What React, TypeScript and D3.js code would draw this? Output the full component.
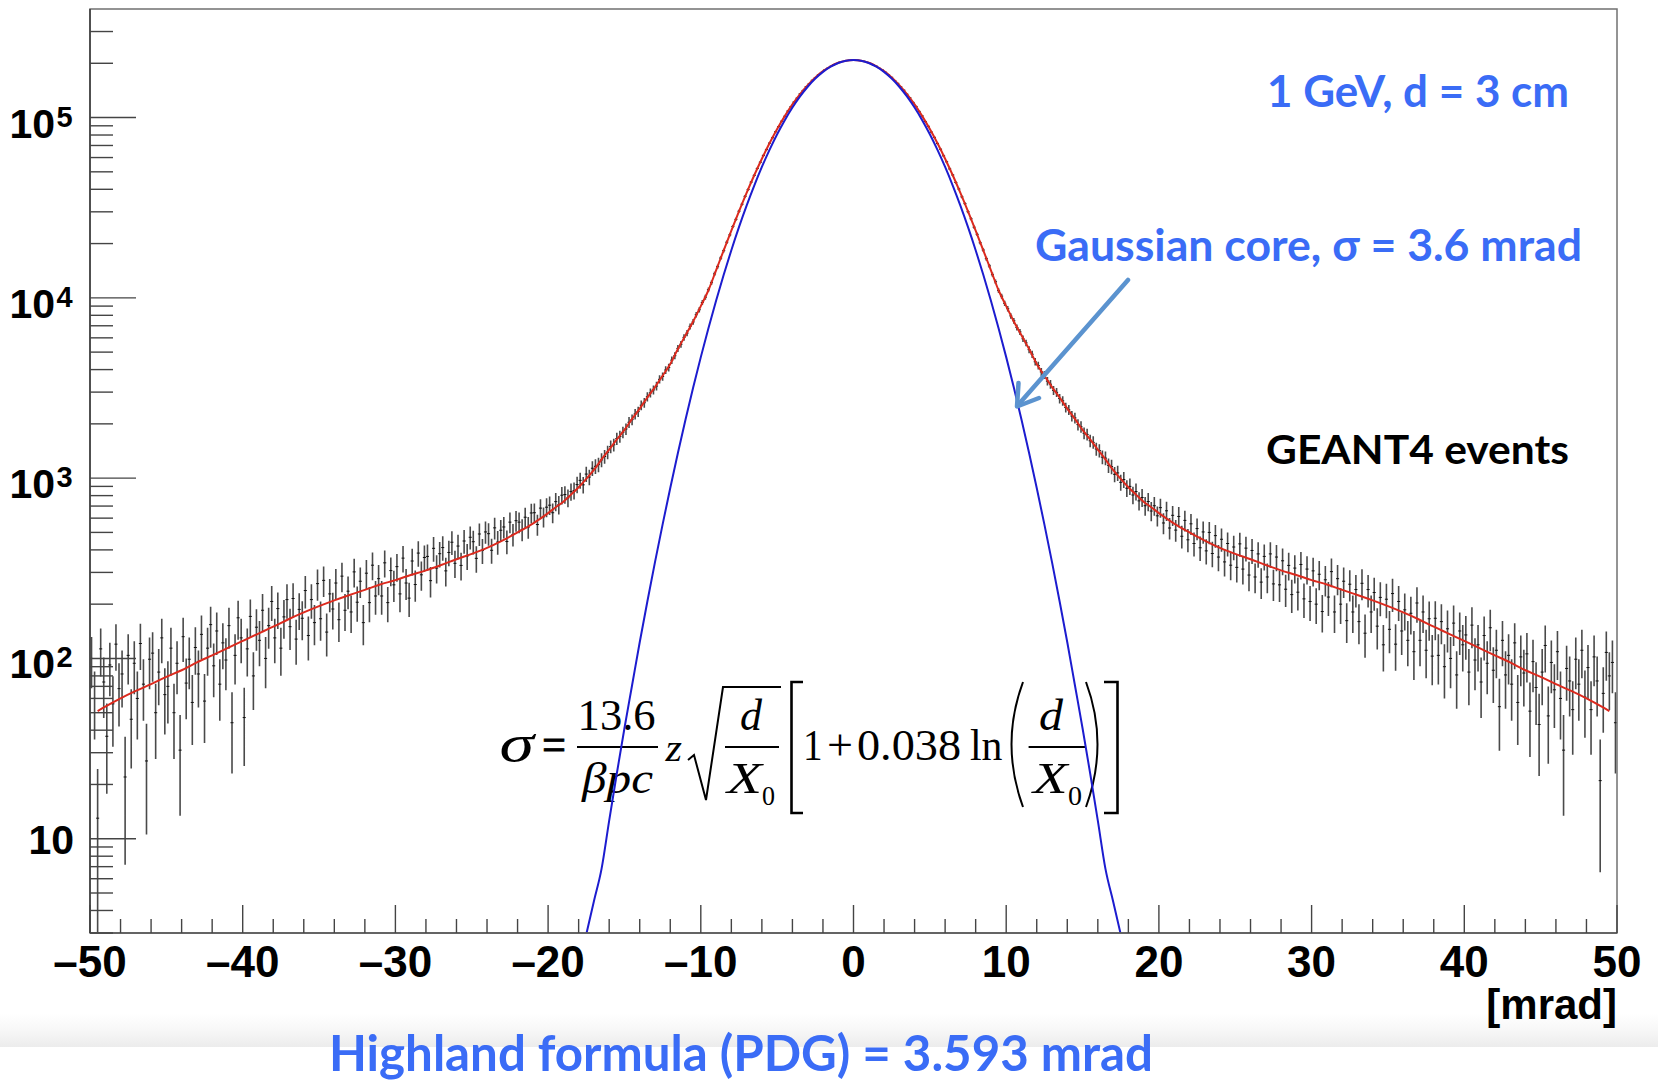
import React from "react";
import * as d3 from "d3";

// ---------- data ----------
const BIN_LO = -50;
const BIN_WIDTH = 0.2;
const ERR_SCALE = 10; // error bar = sqrt(ERR_SCALE * count)

// histogram bin contents, bins of 0.2 mrad from -50 to 50
const COUNTS: number[] = [
  100, 60, 13, 113, 74, 37, 92, 56, 120, 68, 82, 22, 104, 46, 94, 60, 121, 72, 27, 99,
  107, 50, 84, 130, 63, 70, 114, 50, 94, 31, 132, 73, 99, 57, 115, 82, 136, 58, 114, 154,
  91, 142, 72, 122, 98, 152, 44, 104, 168, 130, 47, 113, 171, 80, 149, 126, 185, 100, 152, 207,
  130, 189, 114, 170, 212, 150, 215, 128, 187, 167, 238, 134, 212, 158, 260, 166, 271, 140, 228, 188,
  262, 164, 286, 185, 236, 181, 302, 205, 268, 158, 297, 204, 329, 222, 277, 222, 339, 204, 307, 256,
  323, 228, 360, 262, 216, 347, 257, 384, 291, 363, 368, 270, 408, 317, 381, 412, 306, 387, 441, 337,
  420, 328, 448, 370, 470, 444, 359, 490, 397, 503, 492, 398, 530, 442, 514, 536, 445, 570, 487, 581,
  570, 519, 607, 535, 641, 643, 553, 682, 610, 690, 708, 643, 741, 712, 804, 811, 778, 842, 853, 921,
  972, 918, 1053, 1014, 1135, 1163, 1188, 1262, 1318, 1392, 1497, 1531, 1658, 1702, 1796,
  1874, 2041, 2112, 2268, 2339, 2538, 2619, 2826, 2972, 3087, 3241, 3532, 3664, 3978, 4105,
  4512, 4776, 5243, 5529, 6034, 6375, 6948, 7352, 8061, 8589, 9421, 10082, 11093, 12136, 13581,
  14890, 16621, 18282, 20355, 22347, 24890, 27254, 30231, 33061, 36554,
  39862, 43841, 47752, 52188, 56541, 61634, 66405, 72124, 77281, 83401,
  89063, 95471, 101702, 108623, 114814, 121805, 128094, 135221, 141327, 148350,
  154231, 160954, 166672, 172701, 177806, 183390, 187551, 192190, 196238, 199291,
  202760, 204681, 206855, 207594, 208641,
  208213, 207951, 206412, 205103, 202288, 199742, 195774, 192651, 187503, 183361,
  178266, 172218, 167143, 160452, 154736, 147881, 141762, 134708, 128511, 121374,
  115226, 108185, 102091, 95102, 89447, 83019, 77632, 71785, 66732, 61322,
  56843, 51896, 48004, 43612, 40118, 36318, 33287, 30046, 27442, 24665,
  22510, 20194, 18423, 16489, 15037, 13438, 12284, 10967, 10215, 9322,
  8702, 7941, 7458, 6842, 6473, 5931, 5627, 5161, 4866, 4421,
  4213, 3884, 3741, 3452, 3318, 3069, 2991, 2762, 2683, 2466,
  2392, 2211, 2158, 1981, 1926, 1776, 1748, 1612, 1579, 1451,
  1422, 1307, 1291, 1178, 1159, 1050, 1069, 948, 982, 879,
  900, 806, 843, 748, 781, 703, 742, 657, 703, 618,
  686, 564, 659, 529, 622, 515, 613, 476, 583, 455, 558, 434, 525, 411, 503, 395, 500, 382, 480, 365,
  458, 343, 434, 329, 415, 320, 432, 313, 409, 290, 397, 283, 380, 265, 368, 283, 380, 259, 365, 256,
  348, 242, 328, 226, 317, 233, 332, 214, 313, 207, 306, 200, 293, 182, 273, 219, 303, 181, 277, 200,
  268, 162, 258, 181, 241, 160, 261, 138, 241, 181, 232, 151, 218, 119, 213, 145, 229, 120, 207, 142,
  186, 126, 178, 109, 203, 126, 181, 111, 166, 103, 167, 104, 160, 90, 146, 100, 157, 81, 142, 119,
  135, 84, 153, 98, 119, 74, 134, 94, 148, 86, 111, 54, 126, 81, 104, 72, 122, 57, 102, 83,
  106, 51, 96, 69, 43, 84, 118, 48, 95, 67, 109, 60, 31, 88, 75, 52, 99, 72, 111, 61,
  89, 52, 102, 75, 21, 64, 108, 80, 95, 44,
];

// red fit curve
const RED_X: number[] = [
  -49.5, -49, -48, -47, -46, -45, -44, -43, -42, -41, -40, -39, -38, -37, -36, -35, -34, -33, -32, -31,
  -30, -29, -28, -27, -26, -25, -24, -23, -22, -21, -20, -19.5, -19, -18.5, -18, -17.5, -17, -16.5, -16,
  -15.5, -15, -14.5, -14, -13.5, -13, -12.5, -12, -11.5, -11, -10.5, -10, -9.5, -9, -8.5, -8, -7.5, -7,
  -6.5, -6, -5.5, -5, -4.5, -4, -3.5, -3, -2.5, -2, -1.5, -1, -0.5, 0,
  0.5, 1, 1.5, 2, 2.5, 3, 3.5, 4, 4.5, 5, 5.5, 6, 6.5, 7, 7.5, 8, 8.5, 9, 9.5, 10, 10.5, 11, 11.5, 12,
  12.5, 13, 13.5, 14, 14.5, 15, 15.5, 16, 16.5, 17, 17.5, 18, 18.5, 19, 19.5, 20, 21, 22, 23, 24, 25,
  26, 27, 28, 29, 30, 31, 32, 33, 34, 35, 36, 37, 38, 39, 40, 41, 42, 43, 44, 45, 46, 47, 48, 49, 49.5,
];
const RED_Y: number[] = [
  51, 54, 60, 66, 72, 79, 86, 95, 104, 114, 125, 137, 150, 165, 180, 195, 210, 225, 240, 257,
  272, 290, 308, 330, 355, 380, 410, 450, 500, 560, 640, 690, 740, 810, 890, 990, 1110, 1270, 1440,
  1640, 1850, 2130, 2430, 2800, 3200, 3700, 4300, 5200, 6200, 7400, 9000, 11020, 14210, 18340, 23590, 30160, 38210,
  47840, 59120, 71990, 86310, 101860, 118260, 134950, 151400, 166900, 180800, 192420, 201190, 206640, 208500,
  206640, 201190, 192420, 180800, 166900, 151400, 134950, 118260, 101860, 86310, 71990, 59120, 47840, 38210, 30160,
  23590, 18340, 14210, 11020, 9000, 7400, 6200, 5200, 4300,
  3700, 3200, 2800, 2430, 2130, 1850, 1640, 1440, 1270, 1110, 990, 890, 810, 740, 690, 640, 560, 500, 450, 410, 380,
  355, 330, 308, 290, 272, 257, 240, 225, 210, 195, 180, 165, 150, 137, 125, 114, 104, 95, 86, 79, 72, 66, 60, 54, 51,
];

// blue Gaussian curve
const BLUE_X: number[] = [
  -18, -17.5, -17, -16.5, -16, -15.5, -15, -14.5, -14, -13.5, -13, -12.5, -12, -11.5, -11, -10.5, -10,
  -9.5, -9, -8.5, -8, -7.5, -7, -6.5, -6, -5.5, -5, -4.5, -4, -3.5, -3, -2.5, -2, -1.5, -1, -0.5, 0,
  0.5, 1, 1.5, 2, 2.5, 3, 3.5, 4, 4.5, 5, 5.5, 6, 6.5, 7, 7.5, 8, 8.5, 9, 9.5, 10,
  10.5, 11, 11.5, 12, 12.5, 13, 13.5, 14, 14.5, 15, 15.5, 16, 16.5, 17, 17.5, 18,
];
const BLUE_Y: number[] = [
  1.9, 2.95, 4.5, 6.8, 12.6, 23, 41, 71, 123, 207, 342, 554, 882, 1378, 2113, 3180, 4690,
  6790, 9640, 13440, 18380, 24660, 32460, 41950, 53190, 66150, 80740, 96680, 113610, 130980, 148190, 164470, 179130, 191430, 200730, 206530, 208500,
  206530, 200730, 191430, 179130, 164470, 148190, 130980, 113610, 96680, 80740, 66150, 53190, 41950, 32460, 24660, 18380, 13440, 9640, 6790, 4690,
  3180, 2113, 1378, 882, 554, 342, 207, 123, 71, 41, 23, 12.6, 6.8, 4.5, 2.95, 1.9,
];

const X_DOMAIN: [number, number] = [-50, 50];
const Y_DOMAIN: [number, number] = [3, 4e5];
const X_MAJOR: number[] = [-50, -40, -30, -20, -10, 0, 10, 20, 30, 40, 50];
const X_LABELS: string[] = ["\u201350", "\u201340", "\u201330", "\u201320", "\u201310", "0", "10", "20", "30", "40", "50"];
const Y_DECADES: number[] = [1, 2, 3, 4, 5];

const TITLE_TOP = "1 GeV, d = 3 cm";
const TITLE_CORE = "Gaussian core, \u03c3 = 3.6 mrad";
const TITLE_G4 = "GEANT4 events";
const TITLE_HIGHLAND = "Highland formula (PDG) = 3.593 mrad";
const X_TITLE = "[mrad]";

export default function App() {
  const W = 1658;
  const H = 1081;
  const L = 90, R = 1617, T = 9, B = 933;

  const x = d3.scaleLinear().domain(X_DOMAIN).range([L, R]);
  const y = d3.scaleLog().domain(Y_DOMAIN).range([B, T]);

  // error bars
  let vPath = "";
  let hPath = "";
  COUNTS.forEach((v, i) => {
    const c = BIN_LO + (i + 0.5) * BIN_WIDTH;
    const e = Math.sqrt(ERR_SCALE * v);
    const px = x(c);
    vPath += `M${px.toFixed(2)},${y(v + e).toFixed(2)}V${y(Math.max(v - e, 0.5)).toFixed(2)}`;
    hPath += `M${x(c - BIN_WIDTH / 2).toFixed(2)},${y(v).toFixed(2)}H${x(c + BIN_WIDTH / 2).toFixed(2)}`;
  });

  const line = d3
    .line<[number, number]>()
    .x((d) => x(d[0]))
    .y((d) => y(d[1]))
    .curve(d3.curveMonotoneX);
  const redPath = line(RED_X.map((v, i) => [v, RED_Y[i]] as [number, number])) || "";
  const bluePath = line(BLUE_X.map((v, i) => [v, BLUE_Y[i]] as [number, number])) || "";

  // ticks
  const xMinor: number[] = d3.range(-50, 50.001, 2).filter((v) => Math.abs(v % 10) > 1e-6);
  const yMinor: number[] = [];
  for (let p = 0; p <= 5; p++) {
    for (let m = 2; m <= 9; m++) {
      const v = m * Math.pow(10, p);
      if (v > Y_DOMAIN[0] - 1e-9 && v < Y_DOMAIN[1] - 1e-9) yMinor.push(v);
    }
  }

  const axisFont = "'Liberation Sans', Arial, Helvetica, sans-serif";
  const textFont = "Lato, 'Open Sans', 'Noto Sans', sans-serif";
  const serif = "'Liberation Serif', 'Times New Roman', serif";
  const blue = "#3a6cf6";

  return (
    <svg
      width={W}
      height={H}
      viewBox={`0 0 ${W} ${H}`}
      style={{ position: "absolute", left: 0, top: 0, background: "#fff" }}
    >
      <defs>
        <clipPath id="plotclip">
          <rect x={L} y={T} width={R - L} height={B - T} />
        </clipPath>
        <linearGradient id="band" x1="0" y1="0" x2="0" y2="1">
          <stop offset="0" stopColor="#ffffff" />
          <stop offset="0.5" stopColor="#f7f7f7" />
          <stop offset="1" stopColor="#ececec" />
        </linearGradient>
      </defs>
      <rect x={0} y={0} width={W} height={H} fill="#fff" />
      <rect x={0} y={1014} width={W} height={33} fill="url(#band)" />

      {/* formula */}
      <g fontFamily={serif} fill="#000">
        <text x={499.5} y={761} fontSize={52} fontStyle="italic" textLength={34.5} lengthAdjust="spacingAndGlyphs">σ</text>
        <text x={542} y={761} fontSize={48} textLength={24} lengthAdjust="spacingAndGlyphs" stroke="#000" strokeWidth={0.8}>=</text>
        <text x={577.6} y={730} fontSize={44} textLength={78} lengthAdjust="spacingAndGlyphs">13.6</text>
        <line x1={577} y1={747} x2={658} y2={747} stroke="#000" strokeWidth={1.8} />
        <text x={582} y={793} fontSize={44} fontStyle="italic" textLength={71} lengthAdjust="spacingAndGlyphs">βpc</text>
        <text x={665.5} y={761} fontSize={38} fontStyle="italic" textLength={16.5} lengthAdjust="spacingAndGlyphs">z</text>
        <path d="M688,760 L694,755 L706,800 L723,687 L781,687" fill="none" stroke="#000" strokeWidth={2} strokeLinejoin="miter" />
        <text x={740} y={730} fontSize={44} fontStyle="italic" textLength={22} lengthAdjust="spacingAndGlyphs">d</text>
        <line x1={725} y1={747} x2={779} y2={747} stroke="#000" strokeWidth={1.8} />
        <text x={727} y={793} fontSize={44} fontStyle="italic" textLength={35} lengthAdjust="spacingAndGlyphs">X</text>
        <text x={762} y={805} fontSize={28} textLength={13} lengthAdjust="spacingAndGlyphs">0</text>
        <path d="M803,682 H791.5 V813 H803" fill="none" stroke="#000" strokeWidth={2.6} />
        <text x={803} y={760} fontSize={44} textLength={19.6} lengthAdjust="spacingAndGlyphs">1</text>
        <text x={827} y={760} fontSize={44} textLength={26} lengthAdjust="spacingAndGlyphs">+</text>
        <text x={857} y={760} fontSize={44} textLength={104} lengthAdjust="spacingAndGlyphs">0.038</text>
        <text x={970} y={760} fontSize={44} textLength={32.5} lengthAdjust="spacingAndGlyphs">ln</text>
        <path d="M1023,682 Q1000,744 1023,807" fill="none" stroke="#000" strokeWidth={2} />
        <text x={1039} y={730} fontSize={44} fontStyle="italic" textLength={24} lengthAdjust="spacingAndGlyphs">d</text>
        <line x1={1028.6} y1={747} x2={1085} y2={747} stroke="#000" strokeWidth={1.8} />
        <text x={1033} y={793} fontSize={44} fontStyle="italic" textLength={34.6} lengthAdjust="spacingAndGlyphs">X</text>
        <text x={1068} y={805} fontSize={28} textLength={14} lengthAdjust="spacingAndGlyphs">0</text>
        <path d="M1086,682 Q1109,744 1086,807" fill="none" stroke="#000" strokeWidth={2} />
        <path d="M1104,682 H1117.5 V813 H1104" fill="none" stroke="#000" strokeWidth={2.6} />
      </g>

      {/* data + curves */}
      <g clipPath="url(#plotclip)">
        <path d={vPath} fill="none" stroke="#4a4a4a" strokeWidth={1.6} />
        <path d={hPath} fill="none" stroke="#111" strokeWidth={1} />
        <path d={redPath} fill="none" stroke="#dc2a1e" strokeWidth={2} />
        <path d={bluePath} fill="none" stroke="#1c1ccf" strokeWidth={2} />
      </g>

      {/* frame */}
      <rect x={L} y={T} width={R - L} height={B - T} fill="none" stroke="#707070" strokeWidth={1.5} />
      <line x1={L} y1={T} x2={L} y2={B} stroke="#3a3a3a" strokeWidth={1.5} />
      <line x1={L} y1={B} x2={R} y2={B} stroke="#555" strokeWidth={1.5} />

      {/* x ticks */}
      <g stroke="#444" strokeWidth={1.4}>
        {X_MAJOR.map((v) => (
          <line key={"xM" + v} x1={x(v)} x2={x(v)} y1={B} y2={B - 28} />
        ))}
        {xMinor.map((v) => (
          <line key={"xm" + v} x1={x(v)} x2={x(v)} y1={B} y2={B - 14} />
        ))}
      </g>
      {/* y ticks */}
      <g stroke="#444" strokeWidth={1.4}>
        {Y_DECADES.map((p) => (
          <line key={"yM" + p} x1={L} x2={L + 46} y1={y(Math.pow(10, p))} y2={y(Math.pow(10, p))} />
        ))}
        {yMinor.map((v) => (
          <line key={"ym" + v} x1={L} x2={L + 23} y1={y(v)} y2={y(v)} />
        ))}
      </g>

      {/* x labels */}
      <g fontFamily={axisFont} fontWeight="bold" fontSize={44} fill="#000" textAnchor="middle">
        {X_MAJOR.map((v, i) => (
          <text key={"xl" + v} x={x(v)} y={977}>
            {X_LABELS[i]}
          </text>
        ))}
      </g>
      <text x={R} y={1019} fontFamily={axisFont} fontWeight="bold" fontSize={42} textAnchor="end" fill="#000">
        {X_TITLE}
      </text>

      {/* y labels */}
      <g fontFamily={axisFont} fontWeight="bold" fill="#000">
        {Y_DECADES.map((p) => {
          const ty = y(Math.pow(10, p));
          if (p === 1) {
            return (
              <text key={"yl" + p} x={74} y={ty + 15} fontSize={41} textAnchor="end">
                10
              </text>
            );
          }
          return (
            <g key={"yl" + p}>
              <text x={55} y={ty + 20} fontSize={41} textAnchor="end">
                10
              </text>
              <text x={56.5} y={ty + 9} fontSize={29}>
                {String(p)}
              </text>
            </g>
          );
        })}
      </g>

      {/* annotations */}
      <g fontFamily={textFont} fontWeight="bold">
        <text x={1267} y={107} fontSize={44} fill={blue} textLength={302} lengthAdjust="spacingAndGlyphs">
          {TITLE_TOP}
        </text>
        <text x={1035} y={261} fontSize={44} fill={blue} textLength={547} lengthAdjust="spacingAndGlyphs">
          {TITLE_CORE}
        </text>
        <text x={1266} y={464} fontSize={41} fill="#000" textLength={303} lengthAdjust="spacingAndGlyphs">
          {TITLE_G4}
        </text>
        <text x={329} y={1071} fontSize={50} fill={blue} textLength={824} lengthAdjust="spacingAndGlyphs">
          {TITLE_HIGHLAND}
        </text>
      </g>

      {/* arrow */}
      <g stroke="#5b93cf" strokeWidth={4.5} strokeLinecap="round" strokeLinejoin="round" fill="none">
        <line x1={1128} y1={280} x2={1018} y2={405} />
        <polyline points="1018.5,383 1017,406.5 1039,398" />
      </g>
    </svg>
  );
}
